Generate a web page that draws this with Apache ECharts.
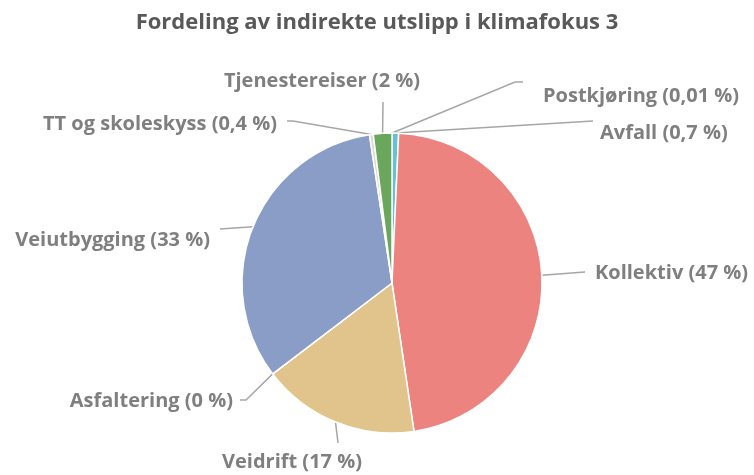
<!DOCTYPE html>
<html>
<head>
<meta charset="utf-8">
<script src="https://cdn.jsdelivr.net/npm/echarts@6/dist/echarts.min.js"></script>
<style>
  html, body { margin: 0; padding: 0; background: #fff; }
  #chart { width: 754px; height: 475px; }
</style>
</head>
<body>
<div id="chart"></div>
<script>
// data
var categories = ['Postkjøring', 'Avfall', 'Kollektiv', 'Veidrift', 'Asfaltering', 'Veiutbygging', 'TT og skoleskyss', 'Tjenestereiser'];
var shares = [0.01, 0.7, 47, 17, 0, 33, 0.4, 2];
var colors = ['#4f81bd', '#63c3d3', '#ec837f', '#e0c48c', '#b0b0b0', '#8a9dc6', '#d9d9d9', '#6aa75c'];

// label placement: [x, y, align, line mid point, line end point]
var labelPos = [
  [543, 96, 'left', [515, 82], [523, 82]],
  [600, 133, 'left', [593, 121], [593, 121]],
  [595, 273, 'left', [585, 272], [585, 272]],
  [292, 462, 'center', [338, 443], [338, 443]],
  [233, 401, 'right', [246, 400], [240, 400]],
  [210, 240, 'right', [220, 229], [220, 229]],
  [277, 124, 'right', [293, 121], [287, 121]],
  [322, 81, 'center', [383, 102], [383, 102]]
];

var chart = echarts.init(document.getElementById('chart'));

var pieData = categories.map(function (name, i) {
  return { name: name, value: shares[i], itemStyle: { color: colors[i] } };
});

var option = {
  animation: false,
  title: {
    text: 'Fordeling av indirekte utslipp i klimafokus 3',
    left: 'center',
    top: 7,
    textStyle: {
      fontFamily: 'Open Sans',
      fontSize: 22,
      fontWeight: 'bold',
      color: '#595959'
    }
  },
  series: [{
    type: 'pie',
    center: [392, 283],
    radius: 150,
    startAngle: 90,
    clockwise: true,
    avoidLabelOverlap: false,
    stillShowZeroSum: true,
    itemStyle: { borderColor: '#fff', borderWidth: 1.5 },
    label: {
      show: true,
      fontFamily: 'Open Sans',
      fontSize: 20,
      fontWeight: 'bold',
      color: '#7f7f7f',
      formatter: function (p) {
        return p.name + ' (' + String(p.value).replace('.', ',') + ' %)';
      }
    },
    labelLine: {
      show: true,
      lineStyle: { color: '#a6a6a6', width: 1.5 }
    },
    labelLayout: function (params) {
      var lp = labelPos[params.dataIndex];
      var start = params.labelLinePoints ? params.labelLinePoints[0] : lp[3];
      return {
        x: lp[0],
        y: lp[1],
        align: lp[2],
        verticalAlign: 'middle',
        labelLinePoints: [start, lp[3], lp[4]]
      };
    },
    data: pieData
  }]
};

chart.setOption(option);
</script>
</body>
</html>
